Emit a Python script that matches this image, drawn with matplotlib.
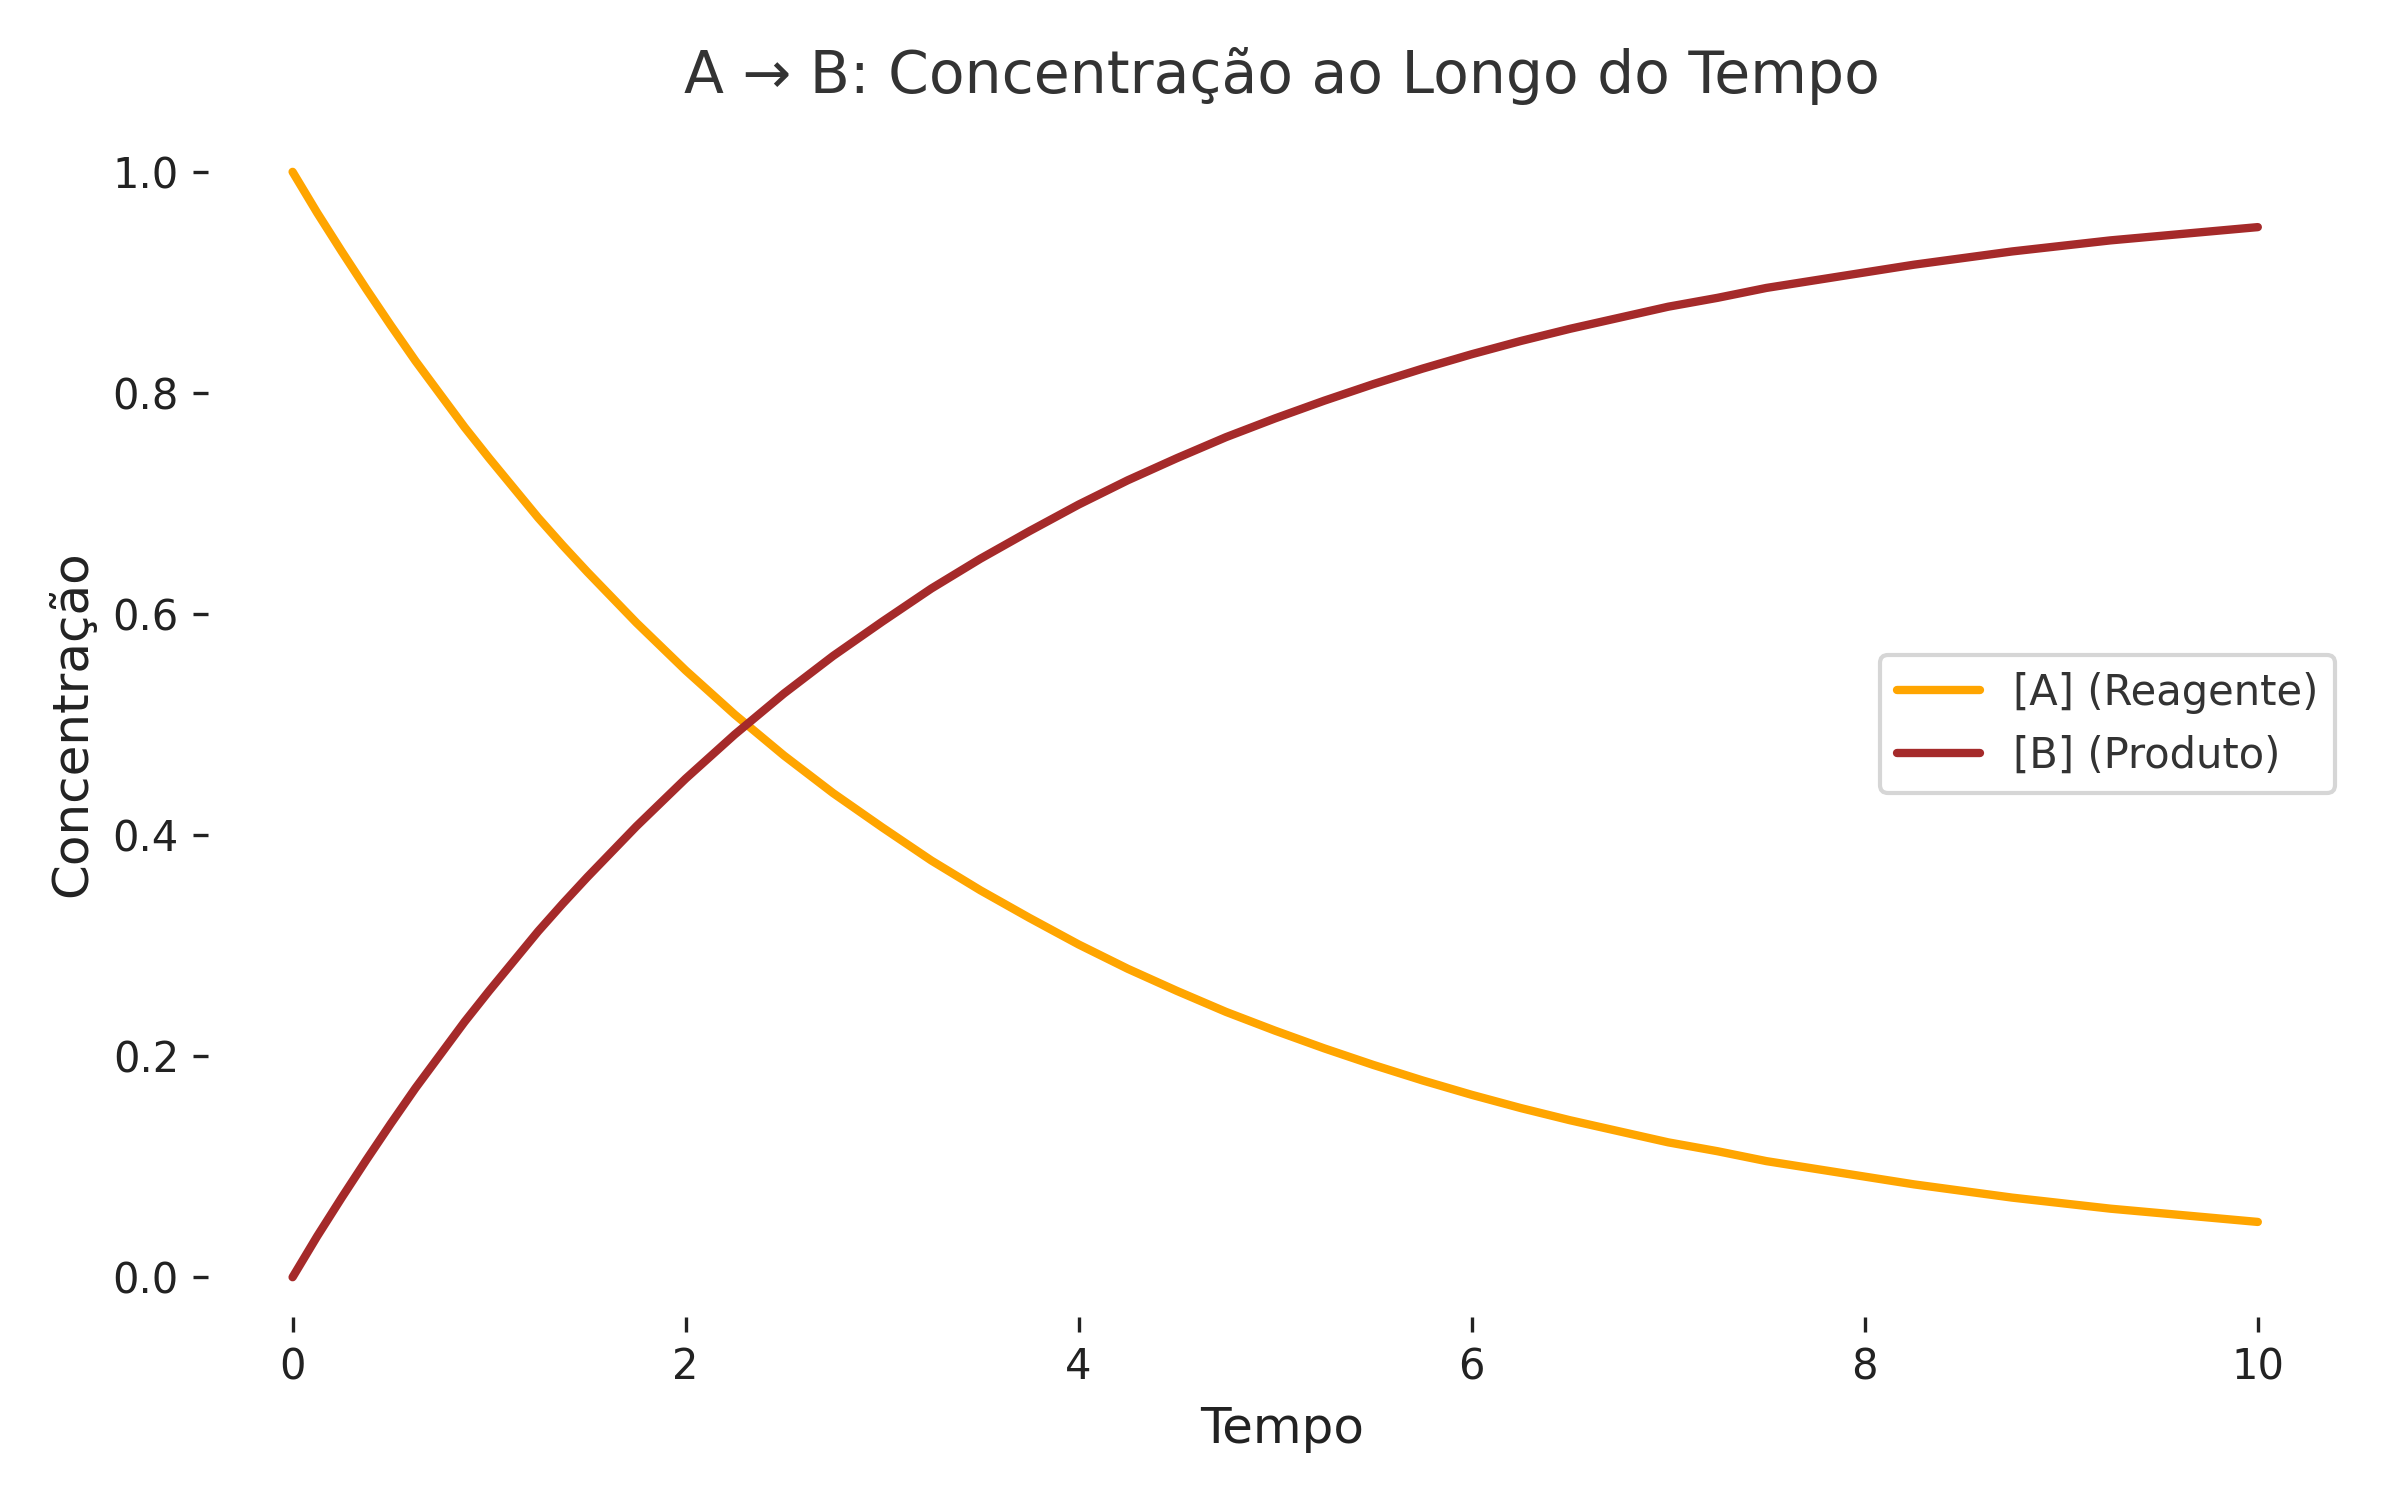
import matplotlib
matplotlib.use("Agg")
import matplotlib.pyplot as plt
import seaborn as sns

# valores
tempo = [0, 0.125, 0.25, 0.375, 0.5, 0.625, 0.75, 0.875, 1, 1.125, 1.25, 1.375,
         1.5, 1.75, 2, 2.25, 2.5, 2.75, 3, 3.25,
         3.5, 3.75, 4, 4.25, 4.5, 4.75, 5, 5.25, 5.5, 5.75, 6, 6.25, 6.5, 6.75,
         7, 7.25, 7.5, 7.75, 8, 8.25, 8.5, 8.75, 9, 9.25, 9.5, 9.75, 10]

conc_a = [1.000, 0.963, 0.928, 0.894, 0.861, 0.829, 0.799, 0.769, 0.741, 0.714,
          0.687, 0.662, 0.638, 0.592, 0.549, 0.509,
          0.472, 0.438, 0.407, 0.377, 0.350, 0.325, 0.301, 0.279, 0.259, 0.240,
          0.223, 0.207, 0.192, 0.178, 0.165, 0.153, 0.142, 0.132, 0.122, 0.114,
          0.105, 0.098, 0.091, 0.084, 0.078, 0.072, 0.067, 0.062, 0.058, 0.054,
          0.050]

conc_b = [0.000, 0.037, 0.072, 0.106, 0.139, 0.171, 0.201, 0.231, 0.259, 0.286,
          0.313, 0.338, 0.362, 0.408, 0.451, 0.491,
          0.528, 0.562, 0.593, 0.623, 0.650, 0.675, 0.699, 0.721, 0.741, 0.760,
          0.777, 0.793, 0.808, 0.822, 0.835, 0.847, 0.858, 0.868, 0.878, 0.886,
          0.895, 0.902, 0.909, 0.916, 0.922, 0.928, 0.933, 0.938, 0.942, 0.946,
          0.950]

sns.set_style("ticks")
plt.rcParams['font.family'] = ['DejaVu Sans']

fig, ax = plt.subplots(figsize=(8, 5), dpi=300)
ax.plot(tempo, conc_a, color='orange', lw=2, label='[A] (Reagente)')
ax.plot(tempo, conc_b, color='brown', lw=2, label='[B] (Produto)')
ax.set_xlim(-0.43, 10.5)
ax.set_ylim(-0.036, 1.037)

ax.set_title('A → B: Concentração ao Longo do Tempo', fontsize=14,
             color='#333333', pad=9)
ax.set_xlabel('Tempo', fontsize=12, color='#222222')
ax.set_ylabel('Concentração', fontsize=12, color='#222222')
ax.tick_params(labelsize=10, colors='#222222')
for s in ax.spines.values():
    s.set_visible(False)

leg = ax.legend(loc='center right', fontsize=10, frameon=True)
leg.get_frame().set_edgecolor('#cccccc')
for t in leg.get_texts():
    t.set_color('#333333')

fig.subplots_adjust(left=0.0867, right=0.9817, bottom=0.122, top=0.9127)
fig.savefig('out.png')
